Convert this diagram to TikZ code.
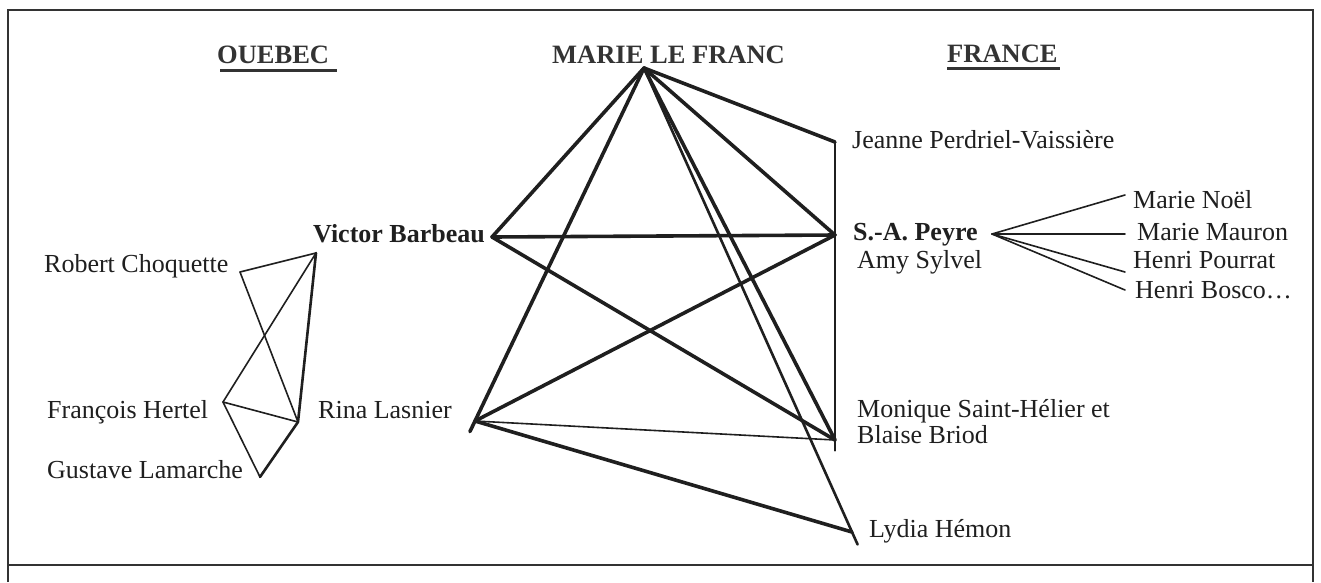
\documentclass[tikz,border=0pt]{standalone}
\usepackage{fontspec}
\setmainfont{Liberation Serif}
\usetikzlibrary{calc}
\begin{document}
\begin{tikzpicture}[x=1pt,y=-1pt,
  lbl/.style={font=\fontsize{26}{26}\selectfont, anchor=base west, inner sep=0pt, text=black!88},
  blbl/.style={lbl, font=\fontsize{26}{26}\selectfont\bfseries},
  hdr/.style={lbl, font=\fontsize{26.5}{26}\selectfont\bfseries, text=black!80},
  frameline/.style={line width=2pt, black!80},
  uline/.style={line width=3pt, black!80},
  heavy/.style={line width=3.6pt, black!88, line cap=round},
  medium/.style={line width=2.6pt, black!88, line cap=round},
  light/.style={line width=1.6pt, black!88, line cap=round}]
\useasboundingbox (0,0) rectangle (1321,582);
% frame
\draw[frameline] (8,582) -- (8,10) -- (1313,10) -- (1313,582);
\draw[frameline] (8,565) -- (1313,565);
% headers
\node[hdr] (quebec) at (217,63) {OUEBEC};
\node[hdr] (mlftext) at (552,63) {MARIE LE FRANC};
\node[hdr] (france) at (947,62) {FRANCE};
\coordinate (qu1) at (220,70); \coordinate (qu2) at (337,70);
\coordinate (fu1) at (947,68); \coordinate (fu2) at (1060,68);
\draw[uline] (qu1) -- (qu2);
\draw[uline] (fu1) -- (fu2);
% connection points
\coordinate (MLF) at (644,68);
\coordinate (JPV) at (835,142);
\coordinate (VB) at (492,237);
\coordinate (VBq) at (316,253);
\coordinate (SAP) at (835,235);
\coordinate (SAPf) at (992,234);
\coordinate (RC) at (240,272);
\coordinate (FH) at (223,402);
\coordinate (RLq) at (298,422);
\coordinate (RL) at (475,421);
\coordinate (GL) at (260,477);
\coordinate (MSH) at (835,440);
\coordinate (LH) at (852,532);
\coordinate (MN) at (1125,195);
\coordinate (MM) at (1125,234);
\coordinate (HP) at (1125,272);
\coordinate (HB) at (1125,290);
% labels
\node[blbl, anchor=base east] (vbtext) at (485,242) {Victor Barbeau};
\node[lbl] (rctext) at (44,272) {Robert Choquette};
\node[lbl] (fhtext) at (47,418) {François Hertel};
\node[lbl] (gltext) at (47,478) {Gustave Lamarche};
\node[lbl] (rltext) at (318,418) {Rina Lasnier};
\node[lbl] (jpvtext) at (852,148) {Jeanne Perdriel-Vaissière};
\node[blbl] (saptext) at (853,240) {S.-A. Peyre};
\node[lbl] (amytext) at (857,268) {Amy Sylvel};
\node[lbl] (mntext) at (1133,208) {Marie Noël};
\node[lbl] (mmtext) at (1137,240) {Marie Mauron};
\node[lbl] (hptext) at (1133,268) {Henri Pourrat};
\node[lbl] (hbtext) at (1135,298) {Henri Bosco…};
\node[lbl] (mshtext) at (857,417) {Monique Saint-Hélier et};
\node[lbl] (bbtext) at (857,443) {Blaise Briod};
\node[lbl] (lhtext) at (869,537) {Lydia Hémon};
% Quebec network
\draw[light] (RC) -- (VBq);
\draw[light] (RC) -- (RLq);
\draw[light] (FH) -- (VBq);
\draw[light] (FH) -- (RLq);
\draw[light] (FH) -- (GL);
\draw[medium] (VBq) -- (RLq);
\draw[medium] (RLq) -- (GL);
% Marie Le Franc network
\draw[heavy] (MLF) -- (JPV);
\draw[heavy] (MLF) -- (VB);
\draw[heavy] (MLF) -- ($(MLF)!1.03!(RL)$);
\draw[heavy] (MLF) -- (SAP);
\draw[heavy] (MLF) -- (MSH);
\draw[medium] (MLF) -- ($(MLF)!1.027!(LH)$);
\draw[medium] (JPV) -- ($(JPV)!1.035!(MSH)$);
\draw[heavy] (VB) -- (SAP);
\draw[heavy] (VB) -- (MSH);
\draw[heavy] (RL) -- (SAP);
\draw[light] (RL) -- (MSH);
\draw[heavy] (RL) -- (LH);
% Peyre's fan
\draw[light] (SAPf) -- (MN);
\draw[light] (SAPf) -- (MM);
\draw[light] (SAPf) -- (HP);
\draw[light] (SAPf) -- (HB);
\end{tikzpicture}
\end{document}
